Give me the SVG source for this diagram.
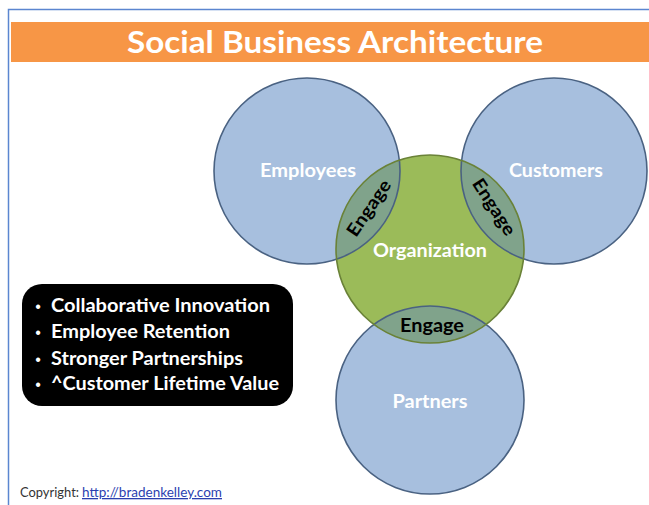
<svg xmlns="http://www.w3.org/2000/svg" width="649" height="505" viewBox="0 0 649 505">
  <defs>
    <style>
      .blue { fill: #A7BFDE; }
      .green { fill: #9BBB59; }
      .lens { fill: #80A38B; }
      .outline { fill: none; stroke: #4A6282; stroke-width: 1.6; }
      .outline-g { fill: none; stroke: #6A8238; stroke-width: 1.6; }
      .lbl { font-family: Lato, "Open Sans", sans-serif; font-weight: bold; fill: #FFFFFF; text-anchor: middle; }
      .eng { font-family: Lato, "Open Sans", sans-serif; font-weight: bold; fill: #000000; text-anchor: middle; font-size: 18px; }
      .bul { font-family: Lato, "Open Sans", sans-serif; font-weight: bold; fill: #FFFFFF; font-size: 18px; }
      .dot { font-family: "Liberation Sans", sans-serif; fill: #FFFFFF; font-size: 16px; text-anchor: middle; }
    </style>
    <clipPath id="clipOrg"><circle cx="430" cy="249" r="94"/></clipPath>
  </defs>

  <rect x="0" y="0" width="649" height="505" fill="#FFFFFF"/>
  <!-- slide frame -->
  <path d="M8.5 505 V9.5 H649" fill="none" stroke="#5B86D0" stroke-width="1.5"/>

  <!-- title bar -->
  <g id="title">
    <rect x="11" y="22" width="638" height="40" fill="#F79646"/>
    <text x="335" y="53" font-family="Lato, 'Open Sans', sans-serif" font-weight="bold" font-size="31" fill="#FFFFFF" text-anchor="middle" textLength="416" lengthAdjust="spacingAndGlyphs">Social Business Architecture</text>
  </g>

  <!-- fills -->
  <g id="employees">
    <circle class="blue" cx="307" cy="171" r="93"/>
  </g>
  <g id="customers">
    <circle class="blue" cx="554" cy="171" r="93"/>
  </g>
  <g id="partners">
    <circle class="blue" cx="430" cy="400" r="94"/>
  </g>
  <g id="organization">
    <circle class="green" cx="430" cy="249" r="94"/>
  </g>

  <!-- overlaps -->
  <g id="connectors">
    <g clip-path="url(#clipOrg)">
      <circle class="lens" cx="307" cy="171" r="93"/>
      <circle class="lens" cx="554" cy="171" r="93"/>
      <circle class="lens" cx="430" cy="400" r="94"/>
    </g>
  </g>

  <!-- outlines -->
  <g id="outlines">
    <circle class="outline" cx="307" cy="171" r="93"/>
    <circle class="outline" cx="554" cy="171" r="93"/>
    <circle class="outline" cx="430" cy="400" r="94"/>
    <circle class="outline-g" cx="430" cy="249" r="94"/>
  </g>

  <!-- labels -->
  <text class="lbl" x="308" y="177" font-size="19" textLength="96" lengthAdjust="spacingAndGlyphs">Employees</text>
  <text class="lbl" x="556" y="177" font-size="19" textLength="94" lengthAdjust="spacingAndGlyphs">Customers</text>
  <text class="lbl" x="430" y="257" font-size="19" textLength="114" lengthAdjust="spacingAndGlyphs">Organization</text>
  <text class="lbl" x="430" y="408" font-size="19" textLength="75" lengthAdjust="spacingAndGlyphs">Partners</text>

  <g id="engage-left">
    <text class="eng" transform="translate(369 208) rotate(-56)" x="0" y="6" textLength="64" lengthAdjust="spacingAndGlyphs">Engage</text>
  </g>
  <g id="engage-right">
    <text class="eng" transform="translate(494 207) rotate(57)" x="0" y="6" textLength="64" lengthAdjust="spacingAndGlyphs">Engage</text>
  </g>
  <g id="engage-bottom">
    <text class="eng" x="432" y="332" textLength="64" lengthAdjust="spacingAndGlyphs">Engage</text>
  </g>

  <!-- benefits box -->
  <g id="benefits">
    <rect x="22" y="284" width="271" height="122" rx="20" ry="20" fill="#000000"/>
    <text class="dot" x="38" y="312">•</text>
    <text class="bul" x="51" y="312" textLength="219" lengthAdjust="spacingAndGlyphs">Collaborative Innovation</text>
    <text class="dot" x="38" y="338">•</text>
    <text class="bul" x="51" y="338" textLength="179" lengthAdjust="spacingAndGlyphs">Employee Retention</text>
    <text class="dot" x="38" y="365">•</text>
    <text class="bul" x="51" y="365" textLength="192" lengthAdjust="spacingAndGlyphs">Stronger Partnerships</text>
    <text class="dot" x="38" y="390">•</text>
    <text class="bul" x="51" y="390" textLength="228" lengthAdjust="spacingAndGlyphs">^Customer Lifetime Value</text>
  </g>

  <!-- copyright -->
  <g id="copyright">
    <text x="20" y="497" font-family="Lato, 'Open Sans', sans-serif" font-size="13" fill="#333333"><tspan textLength="59" lengthAdjust="spacingAndGlyphs">Copyright:</tspan><tspan x="82" fill="#2B3FB0" text-decoration="underline" textLength="140" lengthAdjust="spacingAndGlyphs">http://bradenkelley.com</tspan></text>
  </g>
</svg>
